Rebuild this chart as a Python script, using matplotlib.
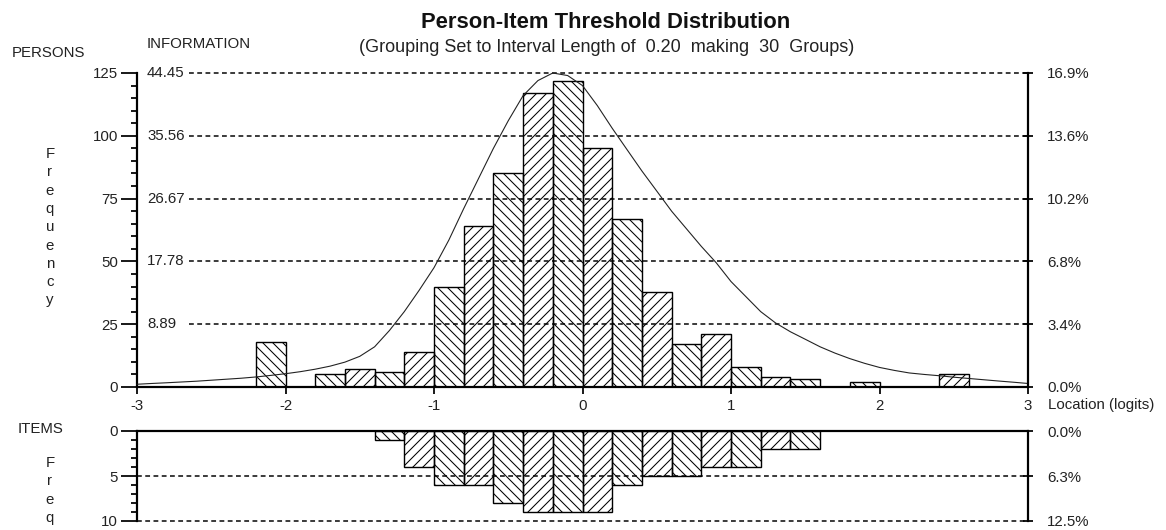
import numpy as np
import matplotlib
matplotlib.use('Agg')
import matplotlib.pyplot as plt
from matplotlib.ticker import MultipleLocator

plt.rcParams['font.family'] = ['Liberation Sans', 'DejaVu Sans']
plt.rcParams['hatch.linewidth'] = 0.5

# ---------------- data ----------------
bin_left = [round(-3 + 0.2 * i, 1) for i in range(30)]
person_counts = [0, 0, 0, 0, 18, 0, 5, 7, 6, 14, 40, 64, 85, 117, 122,
                 95, 67, 38, 17, 21, 8, 4, 3, 0, 2, 0, 0, 5, 0, 0]
item_counts = [0, 0, 0, 0, 0, 0, 0, 0, 1, 4, 6, 6, 8, 9, 9,
               9, 6, 5, 5, 4, 4, 2, 2, 0, 0, 0, 0, 0, 0, 0]

info_x = [-3.0, -2.9, -2.8, -2.7, -2.6, -2.5, -2.4, -2.3, -2.2, -2.1,
          -2.0, -1.9, -1.8, -1.7, -1.6, -1.5, -1.4, -1.3, -1.2, -1.1,
          -1.0, -0.9, -0.8, -0.7, -0.6, -0.5, -0.4, -0.3, -0.2, -0.1,
          0.0, 0.1, 0.2, 0.3, 0.4, 0.5, 0.6, 0.7, 0.8, 0.9,
          1.0, 1.1, 1.2, 1.3, 1.4, 1.5, 1.6, 1.7, 1.8, 1.9,
          2.0, 2.1, 2.2, 2.3, 2.4, 2.5, 2.6, 2.7, 2.8, 2.9, 3.0]
info_y = [0.39, 0.50, 0.60, 0.71, 0.82, 0.96, 1.10, 1.24, 1.42, 1.64,
          1.88, 2.17, 2.52, 2.95, 3.52, 4.34, 5.69, 8.00, 10.67, 13.69,
          16.89, 20.80, 25.25, 29.52, 33.78, 37.69, 41.25, 43.38, 44.45, 44.09,
          42.67, 39.83, 36.63, 33.60, 30.58, 27.74, 24.89, 22.40, 19.91, 17.60,
          14.93, 12.80, 10.67, 9.07, 7.82, 6.76, 5.69, 4.80, 4.02, 3.35,
          2.77, 2.35, 1.99, 1.78, 1.60, 1.39, 1.21, 1.03, 0.85, 0.68, 0.50]

person_ticks = [0, 25, 50, 75, 100, 125]
person_pct_labels = ['0.0%', '3.4%', '6.8%', '10.2%', '13.6%', '16.9%']
info_tick_labels = ['8.89', '17.78', '26.67', '35.56', '44.45']
item_ticks = [0, 5, 10]
item_pct_labels = ['0.0%', '6.3%', '12.5%']
x_ticks = [-3, -2, -1, 0, 1, 2, 3]
info_max = 44.45
person_max = 125

title = 'Person-Item Threshold Distribution'
subtitle = '(Grouping Set to Interval Length of  0.20  making  30  Groups)'

# ---------------- layout helpers ----------------
W, H, DPI = 1166, 530, 150
PX = 72.0 / DPI  # points per pixel


def fx(px):
    return px / W


def fy(py):
    return 1 - py / H


FS = 15 * PX
TC = '#222222'
HATCH_A = '\\' * 5
HATCH_B = '/' * 5

fig = plt.figure(figsize=(W / DPI, H / DPI), dpi=DPI)
fig.patch.set_facecolor('white')

XL, XR = 137, 1028
PPL = (XR - XL) / 6.0  # pixels per logit
ax = fig.add_axes([fx(XL), fy(387), fx(XR) - fx(XL), fy(73) - fy(387)])
ax.set_xlim(-3, 3)
ax.set_ylim(0, person_max)
ax.patch.set_alpha(0)

SPW = 2.2 * PX
for s in ['top', 'right']:
    ax.spines[s].set_visible(False)
for s in ['left', 'bottom']:
    ax.spines[s].set_linewidth(SPW)

dash = (0, (3.2, 2.3))
GLW = 1.5 * PX

# person bars
for i, (x0, c) in enumerate(zip(bin_left, person_counts)):
    if c > 0:
        ax.bar(x0, c, width=0.2, align='edge', facecolor='none',
               edgecolor='black', linewidth=1.4 * PX,
               hatch=HATCH_A if i % 2 == 0 else HATCH_B, zorder=2)

# gridlines & info labels
x_dash_start = -3 + (189 - XL) / PPL
for y, lab in zip(person_ticks[1:], info_tick_labels):
    ax.plot([x_dash_start, 3], [y, y], color='black', lw=GLW, ls=dash,
            zorder=3, clip_on=False)
    ax.text(-3 + 10 / PPL, y, lab, ha='left', va='center',
            fontsize=FS, color=TC)

# information curve
ax.plot(info_x, np.array(info_y) * person_max / info_max, color='#222222',
        lw=1.1 * PX, zorder=4, clip_on=False)

ax.set_yticks(person_ticks)
ax.set_yticklabels([str(t) for t in person_ticks])
ax.yaxis.set_minor_locator(MultipleLocator(5))
ax.tick_params(axis='y', which='major', direction='out', length=16 * PX,
               width=SPW * 0.8, pad=3 * PX, labelsize=FS, labelcolor=TC)
ax.tick_params(axis='y', which='minor', direction='out', length=6 * PX,
               width=SPW * 0.8)
ax.set_xticks(x_ticks)
ax.set_xticklabels([str(t) for t in x_ticks])
ax.tick_params(axis='x', which='major', direction='out', length=7 * PX,
               width=SPW * 0.8, pad=5 * PX, labelsize=FS, labelcolor=TC)

axr = ax.twinx()
axr.set_ylim(0, person_max)
for s in ['top', 'left', 'bottom']:
    axr.spines[s].set_visible(False)
axr.spines['right'].set_linewidth(SPW)
axr.set_yticks(person_ticks)
axr.set_yticklabels(person_pct_labels)
axr.tick_params(axis='y', direction='inout', length=10 * PX, width=SPW * 0.8,
                pad=14 * PX, labelsize=FS, labelcolor=TC)

# ---------------- items panel ----------------
axb = fig.add_axes([fx(XL), fy(521), fx(XR) - fx(XL), fy(431) - fy(521)])
axb.set_xlim(-3, 3)
axb.set_ylim(10, 0)
axb.patch.set_alpha(0)
axb.spines['bottom'].set_visible(False)
axb.spines['right'].set_visible(False)
for s in ['top', 'left']:
    axb.spines[s].set_linewidth(SPW)

for i, (x0, c) in enumerate(zip(bin_left, item_counts)):
    if c > 0:
        axb.bar(x0, c, width=0.2, align='edge', facecolor='none',
                edgecolor='black', linewidth=1.4 * PX,
                hatch=HATCH_A if i % 2 == 0 else HATCH_B, zorder=2)

for y in item_ticks[1:]:
    axb.plot([-3, 3], [y, y], color='black', lw=GLW, ls=dash, zorder=3,
             clip_on=False)

axb.set_xticks([])
axb.set_yticks(item_ticks)
axb.set_yticklabels([str(t) for t in item_ticks])
axb.yaxis.set_minor_locator(MultipleLocator(1))
axb.tick_params(axis='y', which='major', direction='out', length=16 * PX,
                width=SPW * 0.8, pad=3 * PX, labelsize=FS, labelcolor=TC)
axb.tick_params(axis='y', which='minor', direction='out', length=6 * PX,
                width=SPW * 0.8)

axbr = axb.twinx()
axbr.set_ylim(10, 0)
for s in ['top', 'left', 'bottom']:
    axbr.spines[s].set_visible(False)
axbr.spines['right'].set_linewidth(SPW)
axbr.set_yticks(item_ticks)
axbr.set_yticklabels(item_pct_labels)
axbr.tick_params(axis='y', direction='inout', length=10 * PX, width=SPW * 0.8,
                 pad=14 * PX, labelsize=FS, labelcolor=TC)

# ---------------- texts ----------------
fig.text(fx(606), fy(22), title, ha='center', va='center',
         fontsize=22 * PX, fontweight='bold', color='#111111')
fig.text(fx(607), fy(47), subtitle, ha='center', va='center',
         fontsize=18 * PX, color=TC)
fig.text(fx(12), fy(53), 'PERSONS', ha='left', va='center', fontsize=FS,
         color=TC)
fig.text(fx(147), fy(44), 'INFORMATION', ha='left', va='center', fontsize=FS,
         color=TC)
fig.text(fx(1048), fy(405), 'Location (logits)', ha='left', va='center',
         fontsize=FS, color=TC)
fig.text(fx(18), fy(429), 'ITEMS', ha='left', va='center', fontsize=FS,
         color=TC)

for k, ch in enumerate('Frequency'):
    fig.text(fx(50), fy(154 + 18.3 * k), ch, ha='center', va='center',
             fontsize=FS, color=TC)
for k, ch in enumerate('Freq'):
    fig.text(fx(50), fy(463 + 18.3 * k), ch, ha='center', va='center',
             fontsize=FS, color=TC)

fig.savefig('out.png', dpi=DPI, facecolor='white')
